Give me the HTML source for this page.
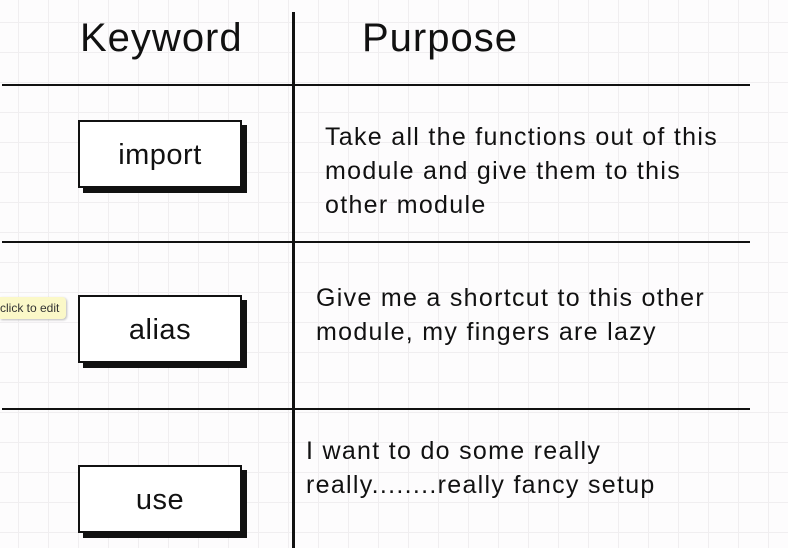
<!DOCTYPE html>
<html><head><style>
body{margin:0;width:788px;height:548px;overflow:hidden;background:#fdfcfd;font-family:"Liberation Sans",sans-serif;position:relative;
background-image:linear-gradient(#f0eef0 1px,transparent 1px),linear-gradient(90deg,#f0eef0 1px,transparent 1px);background-size:30px 30px;background-position:18px 22px;}
.a{position:absolute}
.h{height:2px;background:#111}
.box{position:absolute;width:164px;height:68px;border:2px solid #111;background:#fff;box-shadow:5px 5px 0 #111;font-size:29px;text-align:center;line-height:66px;color:#111;box-sizing:border-box;letter-spacing:0.5px}
.t{position:absolute;font-size:25px;line-height:34px;color:#111;letter-spacing:1.3px}
.hd{position:absolute;font-size:40px;color:#111;letter-spacing:1px}
</style></head><body>
<div class="hd" style="left:80px;top:16px">Keyword</div>
<div class="hd" style="left:362px;top:16px">Purpose</div>
<div class="a" style="left:292px;top:12px;width:3px;height:536px;background:#111"></div>
<div class="a h" style="left:2px;top:84px;width:748px"></div>
<div class="a h" style="left:2px;top:241px;width:748px"></div>
<div class="a h" style="left:2px;top:408px;width:748px"></div>
<div class="box" style="left:78px;top:120px">import</div>
<div class="box" style="left:78px;top:295px">alias</div>
<div class="box" style="left:78px;top:465px">use</div>
<div class="a" style="left:0;top:297px;width:66px;height:22px;background:#fbf8c8;border-radius:0 4px 4px 0;box-shadow:1px 1px 2px #bbb;font-size:12px;line-height:22px;color:#333">click to edit</div>
<div class="t" style="left:325px;top:120px">Take all the functions out of this<br>module and give them to this<br>other module</div>
<div class="t" style="left:316px;top:281px">Give me a shortcut to this other<br>module, my fingers are lazy</div>
<div class="t" style="left:306px;top:434px">I want to do some really<br>really........really fancy setup</div>
</body></html>
